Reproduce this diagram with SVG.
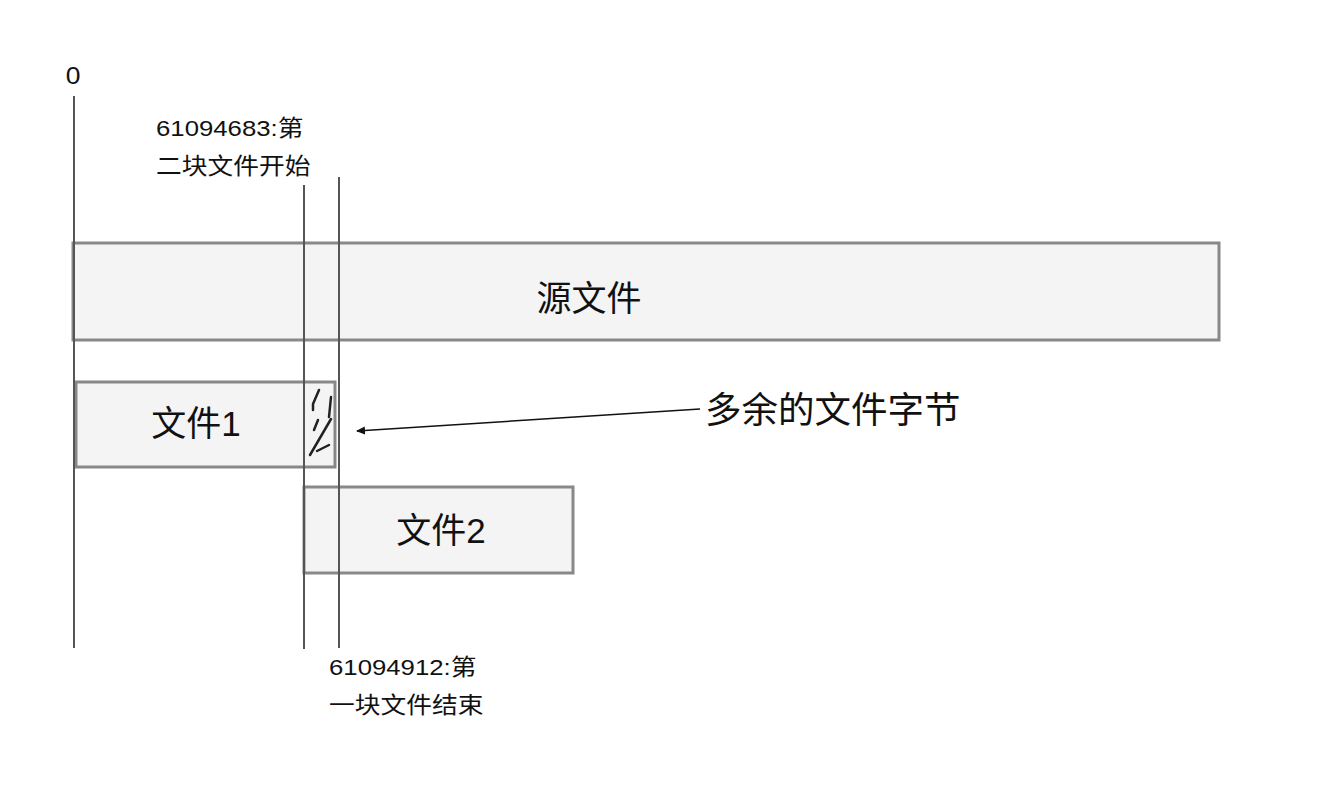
<svg xmlns="http://www.w3.org/2000/svg" width="1324" height="808" viewBox="0 0 1324 808">
<defs>
<style>
.box{fill:#f4f4f4;stroke:#888;stroke-width:3}
.vl{stroke:#555;stroke-width:2;fill:none}
.big{font-family:"Liberation Sans","Noto Sans CJK SC",sans-serif;font-size:35px;fill:#111}
.sm{font-family:"Liberation Sans","Noto Sans CJK SC",sans-serif;font-size:23px;fill:#111}
.sq{stroke:#222;stroke-width:2.5;fill:none;stroke-linecap:round;stroke-linejoin:round}
</style>
<marker id="ah" markerWidth="10" markerHeight="10" refX="8" refY="5" orient="auto" markerUnits="userSpaceOnUse">
<path d="M0,1 L9,5 L0,9 Z" fill="#111"/>
</marker>
</defs>
<rect width="1324" height="808" fill="#fff"/>
<g id="source">
<rect class="box" x="73" y="243" width="1146" height="97"/>
<text class="big" x="589" y="311" text-anchor="middle">源文件</text>
</g>
<g id="file1">
<rect class="box" x="76" y="382" width="259" height="85"/>
<text class="big" x="196" y="436" text-anchor="middle">文件1</text>
</g>
<g id="file2">
<rect class="box" x="304" y="487" width="269" height="86"/>
<text class="big" x="441" y="543" text-anchor="middle">文件2</text>
</g>
<g id="extra-bytes">
<path class="sq" d="M319,390 L313,404 L313,410 M331,397 L329,417 M318,420 L314,430 M331,419 L310,455 M317,451 L329,445"/>
</g>
<g id="connectors">
<line class="vl" x1="74" y1="96" x2="74" y2="648"/>
<line class="vl" x1="304" y1="185" x2="304" y2="649"/>
<line class="vl" x1="339" y1="177" x2="339" y2="648"/>
<line x1="700" y1="409" x2="357" y2="431" stroke="#111" stroke-width="1.5" marker-end="url(#ah)"/>
</g>
<g id="labels">
<text class="sm" transform="translate(73,84) scale(1.15,1)" text-anchor="middle">0</text>
<text class="sm" transform="translate(156,136) scale(1.12,1)">61094683:第</text>
<text class="sm" transform="translate(156,174) scale(1.12,1)">二块文件开始</text>
<text class="sm" transform="translate(329,675) scale(1.12,1)">61094912:第</text>
<text class="sm" transform="translate(329,713) scale(1.12,1)">一块文件结束</text>
<text class="big" x="705" y="423" style="font-size:36.5px">多余的文件字节</text>
</g>
</svg>
